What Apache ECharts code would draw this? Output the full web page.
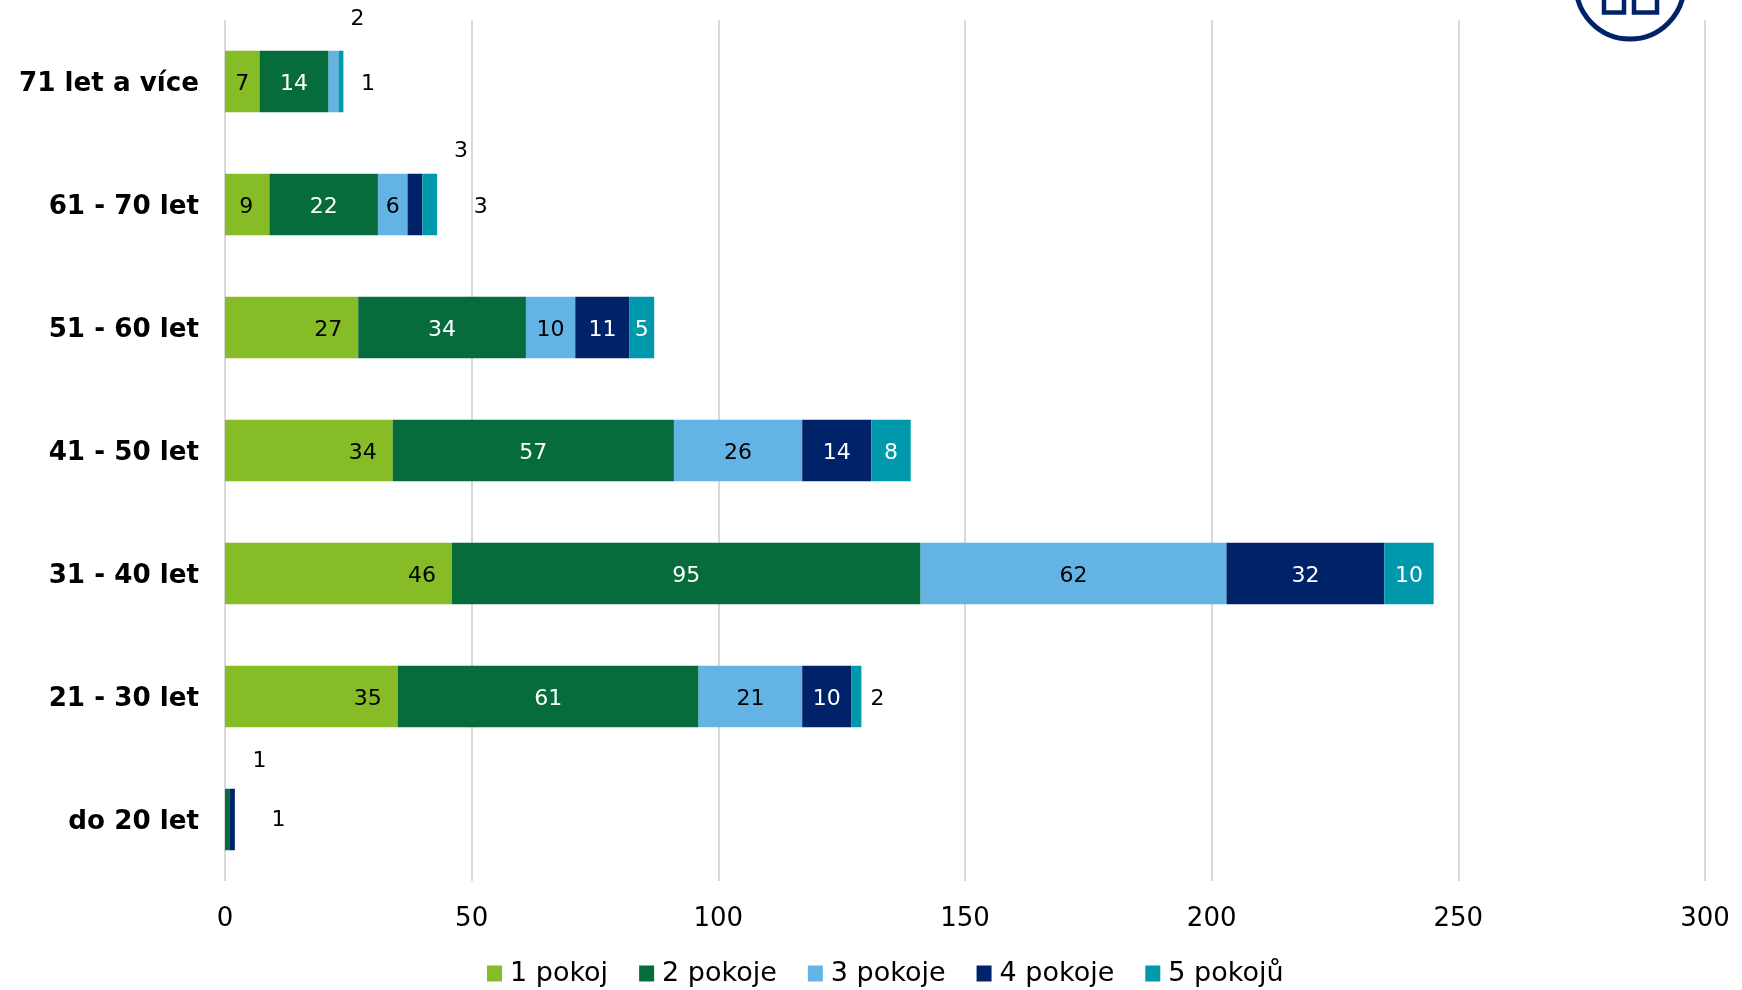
<!DOCTYPE html>
<html><head><meta charset="utf-8">
<style>html,body{margin:0;padding:0;background:#fff}#c{width:1742px;height:990px}</style>
<script src="https://cdn.jsdelivr.net/npm/echarts@6/dist/echarts.min.js"></script></head>
<body><div id="c"></div>
<script>
const categories = ['do 20 let','21 - 30 let','31 - 40 let','41 - 50 let','51 - 60 let','61 - 70 let','71 let a více'];
const seriesNames = ['1 pokoj','2 pokoje','3 pokoje','4 pokoje','5 pokojů'];
const pokoj1 = [null,35,46,34,27,9,7];
const pokoje2 = [1,61,95,57,34,22,14];
const pokoje3 = [null,21,62,26,10,6,2];
const pokoje4 = [1,10,32,14,11,3,null];
const pokoje5 = [null,2,10,8,5,3,1];
const values = [pokoj1,pokoje2,pokoje3,pokoje4,pokoje5];
const colors = ['#86BC25','#076C3B','#63B4E5','#002269','#0098AB'];
const labelColors = ['#000','#fff','#000','#fff','#fff'];
const tickLabels = [0,50,100,150,200,250,300];
const FONT = '"DejaVu Sans", Verdana, sans-serif';
// manually moved data labels: "series,category" -> label style
const moved = {
  '0,5': {position:'inside', offset:[-1,3]}, '0,6': {position:'inside', offset:[0,3]},
  '1,0': {position:'inside', offset:[32,-58], color:'#000'},
  '2,6': {position:'inside', offset:[24,-62], color:'#000'},
  '3,0': {position:'inside', offset:[46,1], color:'#000'},
  '3,5': {position:'inside', offset:[46,-53], color:'#000'},
  '4,5': {position:'inside', offset:[51,3], color:'#000'},
  '4,6': {position:'inside', offset:[27,3], color:'#000'},
  '4,1': {position:'inside', offset:[21,3], color:'#000'}
};
const chart = echarts.init(document.getElementById('c'), null, {renderer:'canvas'});
chart.setOption({
  animation:false,
  backgroundColor:'#fff',
  textStyle:{fontFamily:FONT},
  grid:{left:225,right:37,top:20,bottom:109,containLabel:false},
  legend:{left:482,top:955,itemWidth:15,itemHeight:16,itemGap:31,icon:'rect',
    data:seriesNames,textStyle:{fontFamily:FONT,fontSize:27,color:'#000',padding:[0,0,0,3]}},
  xAxis:{type:'value',min:0,max:300,interval:50,
    axisLine:{show:false},axisTick:{show:false},
    splitLine:{show:true,lineStyle:{color:'#D9D9D9',width:2}},
    axisLabel:{fontFamily:FONT,fontSize:26,color:'#000',margin:25,
      formatter:v=>String(tickLabels[tickLabels.indexOf(v)])}},
  yAxis:{type:'category',data:categories,
    axisLine:{show:false},axisTick:{show:false},
    axisLabel:{margin:26,formatter:v=>'{a|'+v+'}',
      rich:{a:{fontFamily:FONT,fontSize:26.2,fontWeight:'bold',color:'#000',padding:[5,0,0,0]}}}},
  series:seriesNames.map((n,s)=>({
    name:n,type:'bar',stack:'t',barWidth:'50%',
    itemStyle:{color:colors[s]},
    label:{show:true,fontFamily:FONT,fontSize:22,color:labelColors[s],offset:[0,3],
      position:s===0?'insideRight':'inside',distance:16},
    data:values[s].map((v,c)=>{
      const m=moved[s+','+c];
      return m?{value:v,label:m}:v;
    })
  })),
  graphic:{elements:[
    {type:'circle',shape:{cx:1630,cy:-15,r:54},style:{fill:'#fff',stroke:'#002269',lineWidth:5},silent:true,z:10},
    {type:'rect',shape:{x:1604,y:-10,width:20,height:22.5},style:{fill:'#fff',stroke:'#002269',lineWidth:4.5},silent:true,z:10},
    {type:'rect',shape:{x:1634,y:-10,width:23,height:22.5},style:{fill:'#fff',stroke:'#002269',lineWidth:4.5},silent:true,z:10}
  ]}
});
</script></body></html>
